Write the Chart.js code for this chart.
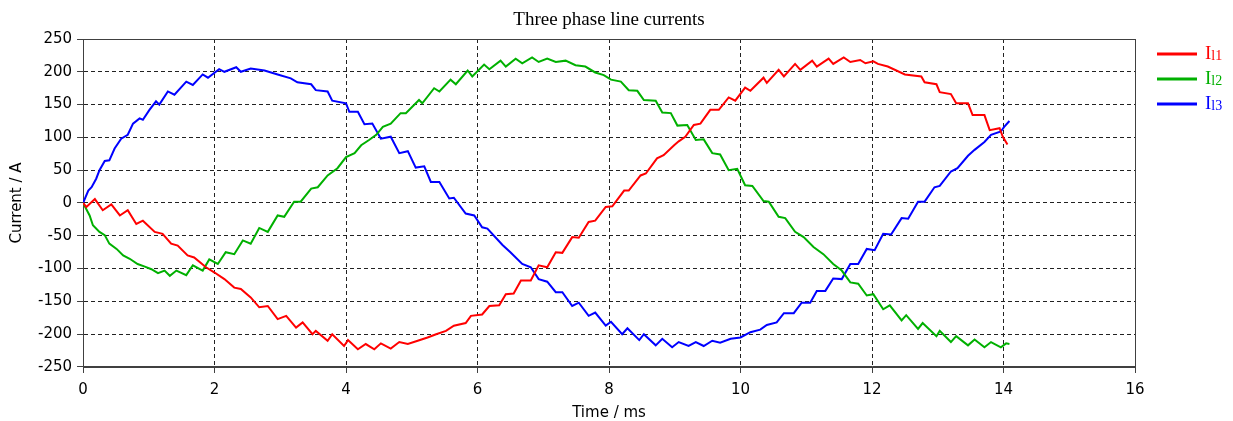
<!DOCTYPE html>
<html>
<head>
<meta charset="utf-8">
<script src="https://cdn.jsdelivr.net/npm/chart.js@4.4.0/dist/chart.umd.min.js"></script>
<style>
html, body { margin: 0; padding: 0; background: #fff; }
</style>
</head>
<body>
<canvas id="myChart" width="1233" height="421"></canvas>
<script>
var myChart;

// Tiempos (ms) y corrientes (A)
var tiempoL1 = [0, 0.05, 0.18, 0.3, 0.43, 0.56, 0.68, 0.81, 0.91, 1.09, 1.21, 1.34, 1.44, 1.59, 1.69, 1.87, 2.0, 2.15, 2.3, 2.4,
    2.55, 2.68, 2.81, 2.96, 3.09, 3.24, 3.34, 3.49, 3.54, 3.72, 3.79, 3.97, 4.03, 4.18, 4.3, 4.43, 4.53, 4.68, 4.81, 4.94,
    5.09, 5.24, 5.37, 5.52, 5.64, 5.82, 5.9, 6.07, 6.18, 6.33, 6.43, 6.55, 6.66, 6.81, 6.93, 7.06, 7.19, 7.29, 7.44, 7.54,
    7.69, 7.79, 7.95, 8.05, 8.23, 8.3, 8.48, 8.56, 8.73, 8.83, 8.99, 9.06, 9.16, 9.29, 9.39, 9.54, 9.67, 9.82, 9.92, 10.07,
    10.15, 10.35, 10.4, 10.58, 10.66, 10.83, 10.91, 11.09, 11.16, 11.34, 11.41, 11.57, 11.67, 11.82, 11.9, 12.02, 12.09, 12.24, 12.5, 12.75,
    12.8, 12.98, 13.03, 13.2, 13.28, 13.46, 13.53, 13.71, 13.79, 13.94, 13.99, 14.06];
var corrienteL1 = [0, -6, 6, -11, -2, -19, -11, -32, -27, -44, -47, -62, -65, -80, -83, -98, -106, -116, -129, -131,
    -144, -159, -157, -177, -172, -190, -182, -200, -195, -210, -200, -218, -209, -223, -215, -223, -214, -222, -212, -215,
    -210, -205, -200, -195, -187, -183, -172, -170, -157, -156, -139, -138, -118, -118, -95, -98, -75, -76, -52, -53,
    -29, -27, -6, -5, 19, 19, 42, 45, 68, 73, 88, 94, 101, 119, 121, 142, 142, 161, 156, 176,
    171, 191, 183, 203, 193, 212, 203, 217, 208, 220, 212, 222, 215, 218, 213, 216, 212, 208, 196, 193,
    184, 181, 169, 166, 152, 152, 134, 134, 111, 114, 101, 89];

var tiempoL2 = [0, 0.1, 0.15, 0.25, 0.33, 0.4, 0.51, 0.61, 0.71, 0.83, 0.94, 1.04, 1.14, 1.24, 1.32, 1.42, 1.57, 1.67, 1.82, 1.92,
    2.05, 2.17, 2.3, 2.43, 2.55, 2.68, 2.81, 2.96, 3.06, 3.21, 3.31, 3.47, 3.57, 3.72, 3.87, 4.0, 4.13, 4.23, 4.35, 4.46,
    4.56, 4.68, 4.83, 4.91, 5.11, 5.16, 5.34, 5.42, 5.59, 5.67, 5.85, 5.92, 6.1, 6.18, 6.35, 6.43, 6.58, 6.68, 6.83, 6.93,
    7.06, 7.19, 7.34, 7.49, 7.64, 7.79, 7.92, 8.03, 8.18, 8.3, 8.43, 8.53, 8.71, 8.81, 8.94, 9.04, 9.19, 9.32, 9.44, 9.57,
    9.69, 9.82, 9.95, 10.07, 10.18, 10.35, 10.43, 10.58, 10.68, 10.83, 10.96, 11.11, 11.26, 11.41, 11.54, 11.67, 11.79, 11.92, 12.02, 12.17,
    12.27, 12.45, 12.52, 12.7, 12.77, 12.98, 13.03, 13.2, 13.28, 13.46, 13.56, 13.71, 13.81, 13.96, 14.04, 14.09];
var corrienteL2 = [0, -19, -34, -44, -49, -62, -70, -80, -85, -93, -97, -101, -107, -103, -111, -103, -110, -95, -103, -86,
    -93, -75, -78, -57, -62, -38, -44, -19, -21, 2, 2, 22, 24, 42, 53, 70, 76, 88, 96, 104,
    116, 121, 137, 137, 157, 152, 175, 170, 188, 181, 202, 193, 211, 204, 217, 208, 220, 213, 222, 215,
    220, 215, 217, 210, 208, 199, 195, 188, 185, 172, 171, 157, 156, 138, 137, 118, 119, 96, 97, 76,
    74, 50, 52, 27, 26, 3, 2, -21, -23, -44, -52, -67, -78, -93, -103, -121, -123, -141, -139, -162,
    -156, -179, -171, -192, -183, -203, -195, -212, -203, -217, -208, -220, -212, -220, -214, -215];

var tiempoL3 = [0, 0.08, 0.13, 0.2, 0.25, 0.33, 0.4, 0.48, 0.58, 0.68, 0.76, 0.86, 0.91, 1.01, 1.11, 1.16, 1.29, 1.39, 1.57, 1.67,
    1.82, 1.9, 2.07, 2.15, 2.33, 2.4, 2.55, 2.76, 2.96, 3.16, 3.26, 3.47, 3.54, 3.72, 3.79, 4.0, 4.05, 4.18, 4.28, 4.4,
    4.53, 4.68, 4.81, 4.94, 5.06, 5.19, 5.29, 5.42, 5.57, 5.64, 5.82, 5.95, 6.07, 6.15, 6.38, 6.5, 6.68, 6.81, 6.93, 7.06,
    7.19, 7.29, 7.44, 7.54, 7.69, 7.79, 7.95, 8.03, 8.2, 8.28, 8.46, 8.53, 8.71, 8.81, 8.96, 9.06, 9.21, 9.32, 9.44, 9.57,
    9.69, 9.85, 10.0, 10.15, 10.3, 10.4, 10.55, 10.66, 10.81, 10.93, 11.06, 11.16, 11.29, 11.41, 11.54, 11.67, 11.79, 11.92, 12.04, 12.17,
    12.29, 12.45, 12.55, 12.7, 12.8, 12.95, 13.03, 13.2, 13.3, 13.46, 13.56, 13.71, 13.81, 13.96, 14.01, 14.09];
var corrienteL3 = [0, 19, 24, 37, 50, 64, 65, 83, 98, 104, 121, 129, 127, 142, 155, 150, 170, 165, 185, 180,
    196, 191, 204, 200, 207, 200, 205, 202, 196, 190, 184, 181, 172, 170, 156, 152, 139, 139, 120, 121,
    98, 101, 76, 79, 54, 56, 32, 32, 7, 8, -16, -19, -37, -39, -64, -75, -93, -98, -116, -120,
    -136, -136, -157, -152, -172, -167, -187, -181, -200, -191, -209, -200, -217, -207, -220, -212, -218, -212, -218, -210,
    -213, -207, -205, -197, -193, -186, -182, -168, -168, -152, -152, -134, -134, -115, -116, -93, -93, -70, -72, -47,
    -48, -23, -24, 2, 2, 24, 26, 48, 53, 72, 81, 93, 104, 109, 116, 125];

var nombres = ['Il1', 'Il2', 'Il3'];
var colores = ['#ff0000', '#00b000', '#0000ff'];

function puntos(t, v) {
    return t.map(function (x, i) { return { x: x, y: v[i] }; });
}

// Marco completo alrededor del area del grafico
var marco = {
    id: 'marco',
    beforeDatasetsDraw: function (chart) {
        var a = chart.chartArea;
        var c = chart.ctx;
        c.save();
        c.strokeStyle = '#404040';
        c.lineWidth = 1;
        c.strokeRect(Math.round(a.left) + 0.5, Math.round(a.top) + 0.5,
            Math.round(a.right - a.left), Math.round(a.bottom - a.top));
        c.restore();
    }
};

// Leyenda a la derecha con subindice
var leyenda = {
    id: 'leyenda',
    afterDraw: function (chart) {
        var a = chart.chartArea;
        var c = chart.ctx;
        chart.data.datasets.forEach(function (ds, i) {
            var x = a.right + 22;
            var y = a.top + 15 + i * 25;
            c.save();
            c.strokeStyle = ds.borderColor;
            c.lineWidth = 3;
            c.beginPath();
            c.moveTo(x, y);
            c.lineTo(x + 40, y);
            c.stroke();
            c.fillStyle = ds.borderColor;
            c.textBaseline = 'middle';
            c.textAlign = 'left';
            c.font = '19px "Liberation Serif"';
            c.fillText(ds.label.charAt(0), x + 48, y);
            var w = c.measureText(ds.label.charAt(0)).width;
            c.font = '14px "Liberation Serif"';
            c.fillText(ds.label.slice(1), x + 48 + w, y + 2);
            c.restore();
        });
    }
};

var data = {
    datasets: [
        { label: nombres[0], data: puntos(tiempoL1, corrienteL1), borderColor: colores[0] },
        { label: nombres[1], data: puntos(tiempoL2, corrienteL2), borderColor: colores[1] },
        { label: nombres[2], data: puntos(tiempoL3, corrienteL3), borderColor: colores[2] }
    ]
};
data.datasets.forEach(function (ds) {
    ds.borderWidth = 2;
    ds.pointRadius = 0;
    ds.tension = 0;
    ds.fill = false;
});

var fuente = { family: 'DejaVu Sans', size: 15 };

var options = {
    responsive: false,
    animation: false,
    layout: { padding: { top: 0, right: 98, bottom: 0, left: 0 } },
    plugins: {
        legend: { display: false },
        tooltip: { enabled: false },
        title: {
            display: true,
            text: 'Three phase line currents',
            fullSize: false,
            color: '#000',
            font: { family: 'Liberation Serif', size: 19, weight: 'normal' },
            padding: { top: 8.6, bottom: 7.6 }
        }
    },
    scales: {
        x: {
            type: 'linear',
            position: 'bottom',
            min: 0,
            max: 16,
            ticks: { stepSize: 2, color: '#000', font: { family: 'DejaVu Sans', size: 15, lineHeight: 1 }, padding: 10, maxRotation: 0 },
            grid: { color: '#222', lineWidth: 1, tickColor: '#404040', tickLength: 6 },
            border: { color: '#404040', width: 1, dash: [4, 3] },
            title: { display: true, text: 'Time / ms', color: '#000', font: { family: 'DejaVu Sans', size: 15, lineHeight: 0.667 }, padding: { top: 0, bottom: 3 } }
        },
        y: {
            type: 'linear',
            position: 'left',
            min: -250,
            max: 250,
            ticks: { stepSize: 50, color: '#000', font: fuente, padding: 5 },
            grid: { color: '#222', lineWidth: 1, tickColor: '#404040', tickLength: 6 },
            border: { color: '#404040', width: 1, dash: [4, 3] },
            title: { display: true, text: 'Current / A', color: '#000', font: { family: 'DejaVu Sans', size: 15, lineHeight: 1.2 }, padding: { top: 8, bottom: 7 } }
        }
    }
};

var ctx = document.getElementById('myChart').getContext('2d');
myChart = new Chart(ctx, {
    type: 'line',
    data: data,
    options: options,
    plugins: [marco, leyenda]
});
</script>
</body>
</html>
